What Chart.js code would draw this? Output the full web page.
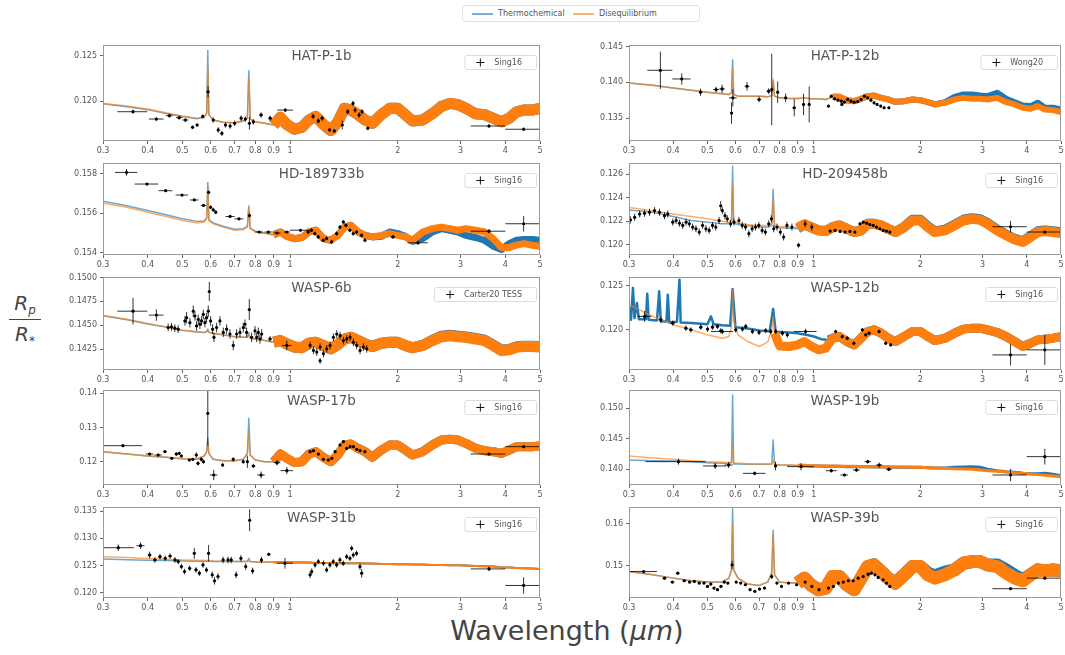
<!DOCTYPE html>
<html>
<head>
<meta charset="utf-8">
<script src="https://cdn.jsdelivr.net/npm/chart.js@4.4.1/dist/chart.umd.min.js"></script>
<style>
  body { margin: 0; background: #fff; width: 1065px; height: 655px; overflow: hidden; position: relative; font-family: "DejaVu Sans", sans-serif; }
  canvas { position: absolute; }
  #legend { position: absolute; left: 462px; top: 5px; width: 238px; height: 17px; border: 1px solid #e2e2e2; border-radius: 3px; box-sizing: border-box; font-size: 8px; color: #555; }
  #legend .ln { position: absolute; top: 7px; width: 21px; height: 2px; }
  #legend .tx { position: absolute; top: 3px; }
  #ylab { position: absolute; left: 7px; top: 291px; width: 36px; text-align: center; color: #444; font: italic 20px "DejaVu Sans", sans-serif; line-height: 24px; }
  #ylab sub { font-size: 12px; line-height: 0; vertical-align: -4px; }
  #ylab .bar { height: 1px; background: #444; margin: 4px 2px 2px 2px; }
  #xlab { position: absolute; left: 367px; width: 400px; top: 615px; text-align: center; font-size: 27px; color: #444; }
</style>
</head>
<body>
<div id="legend">
  <span class="ln" style="left:9px;background:rgba(31,119,180,0.6)"></span><span class="tx" style="left:35px">Thermochemical</span>
  <span class="ln" style="left:110px;background:rgba(255,127,14,0.6)"></span><span class="tx" style="left:136px">Disequilibrium</span>
</div>
<div id="ylab"><div><i>R</i><sub><i>p</i></sub></div><div class="bar"></div><div><i>R</i><sub><i>*</i></sub></div></div>
<div id="xlab">Wavelength (<i>μm</i>)</div>
<script>
"use strict";

// model wavelength grid (um)
const WAVE = [
  0.30, 0.35, 0.40, 0.45, 0.50, 0.55,
  0.575, 0.585, 0.589, 0.593,
  0.61, 0.65, 0.70, 0.74, 0.76,
  0.767, 0.774, 0.80, 0.85, 0.90,
  0.94, 0.98, 1.03, 1.08, 1.13,
  1.18, 1.24, 1.30, 1.36, 1.42,
  1.48, 1.55, 1.62, 1.70, 1.80,
  1.90, 2.00, 2.10, 2.20, 2.35,
  2.50, 2.65, 2.80, 2.95, 3.10,
  3.30, 3.50, 3.70, 3.90, 4.10,
  4.30, 4.50, 4.75, 5.00
];
const X_TICKS = [0.3, 0.4, 0.5, 0.6, 0.7, 0.8, 0.9, 1, 2, 3, 4, 5];

// HAT-P-1b
const hatp1Diseq = [
  0.11974, 0.11945, 0.11912, 0.11870, 0.11835, 0.11810,
  0.11820, 0.11860, 0.12380, 0.11850,
  0.11790, 0.11765, 0.11760, 0.11780, 0.11810,
  0.12250, 0.11800, 0.11770, 0.11754, 0.11735,
  0.11820, 0.11740, 0.11688, 0.11710, 0.11790,
  0.11830, 0.11740, 0.11673, 0.11770, 0.11920,
  0.11900, 0.11850, 0.11790, 0.11754, 0.11850,
  0.11920, 0.11920, 0.11850, 0.11780, 0.11790,
  0.11860, 0.11940, 0.11974, 0.11960, 0.11920,
  0.11860, 0.11850, 0.11810, 0.11770, 0.11810,
  0.11880, 0.11900, 0.11900, 0.11920
];
const hatp1Thermo = [
  0.11970, 0.11938, 0.11905, 0.11862, 0.11828, 0.11805,
  0.11820, 0.11870, 0.12563, 0.11850,
  0.11790, 0.11765, 0.11760, 0.11780, 0.11810,
  0.12335, 0.11800, 0.11770, 0.11754, 0.11735,
  0.11820, 0.11740, 0.11688, 0.11710, 0.11790,
  0.11830, 0.11740, 0.11673, 0.11770, 0.11920,
  0.11900, 0.11850, 0.11790, 0.11754, 0.11850,
  0.11920, 0.11920, 0.11850, 0.11780, 0.11790,
  0.11860, 0.11940, 0.11974, 0.11960, 0.11920,
  0.11860, 0.11850, 0.11810, 0.11770, 0.11810,
  0.11880, 0.11900, 0.11900, 0.11920
];
// [wavelength, Rp/R*, x error, y error]
const hatp1Obs = [
  [0.364, 0.11882, 0.035, 0.0002], [0.423, 0.11801, 0.02, 0.0002], [0.46, 0.11838, 0.01, 0.0002],
  [0.49, 0.11816, 0.01, 0.0002], [0.51, 0.1179, 0.01, 0.0002], [0.534, 0.1171, 0.005, 0.0002],
  [0.55, 0.11735, 0.005, 0.0002], [0.57, 0.1183, 0.005, 0.0002], [0.59, 0.12103, 0.005, 0.0006],
  [0.61, 0.1179, 0.005, 0.0003], [0.63, 0.1168, 0.005, 0.0003], [0.645, 0.11643, 0.005, 0.0003],
  [0.66, 0.11735, 0.005, 0.0003], [0.68, 0.11724, 0.005, 0.0003], [0.70, 0.11754, 0.005, 0.0003],
  [0.73, 0.1181, 0.005, 0.0003], [0.75, 0.1180, 0.005, 0.0003], [0.77, 0.11754, 0.005, 0.0007],
  [0.79, 0.1177, 0.005, 0.0003], [0.83, 0.11846, 0.01, 0.0003], [0.88, 0.1181, 0.01, 0.0003],
  [0.97, 0.1190, 0.05, 0.0002], [1.16, 0.1183, 0.01, 0.0003], [1.2, 0.1178, 0.01, 0.0003],
  [1.23, 0.1181, 0.01, 0.0003], [1.29, 0.1168, 0.01, 0.0002], [1.33, 0.1167, 0.01, 0.0002],
  [1.40, 0.11735, 0.01, 0.0005], [1.45, 0.11882, 0.01, 0.0003], [1.50, 0.11974, 0.01, 0.0003],
  [1.52, 0.1190, 0.01, 0.0003], [1.56, 0.11846, 0.01, 0.0003], [1.59, 0.11882, 0.01, 0.0003],
  [1.65, 0.11699, 0.01, 0.0002], [3.6, 0.11724, 0.4, 0.0002], [4.5, 0.11688, 0.5, 0.0002]
];
const hatp1Ticks = [0.120, 0.125];

// HAT-P-12b
const hatp12Diseq = [
  0.13991, 0.13958, 0.13921, 0.13889, 0.13861, 0.13838,
  0.13829, 0.13852, 0.14199, 0.13829,
  0.13806, 0.13806, 0.13806, 0.13796, 0.13815,
  0.14046, 0.13806, 0.13782, 0.13773, 0.13773,
  0.13782, 0.13769, 0.13769, 0.13760, 0.13796,
  0.13796, 0.13750, 0.13736, 0.13769, 0.13806,
  0.13815, 0.13782, 0.13760, 0.13727, 0.13736,
  0.13760, 0.13750, 0.13722, 0.13690, 0.13713,
  0.13760, 0.13782, 0.13769, 0.13769, 0.13760,
  0.13782, 0.13722, 0.13690, 0.13644, 0.13630,
  0.13667, 0.13620, 0.13611, 0.13583
];
const hatp12Thermo = [
  0.13991, 0.13958, 0.13921, 0.13889, 0.13861, 0.13838,
  0.13829, 0.13860, 0.14315, 0.13829,
  0.13806, 0.13806, 0.13806, 0.13796, 0.13815,
  0.14014, 0.13806, 0.13782, 0.13773, 0.13773,
  0.13782, 0.13769, 0.13769, 0.13760, 0.13796,
  0.13796, 0.13750, 0.13736, 0.13769, 0.13806,
  0.13815, 0.13782, 0.13760, 0.13727, 0.13736,
  0.13760, 0.13750, 0.13722, 0.13690, 0.13722,
  0.13796, 0.13829, 0.13829, 0.13815, 0.13806,
  0.13852, 0.13769, 0.13722, 0.13676, 0.13667,
  0.13713, 0.13644, 0.13644, 0.13620
];
const hatp12Obs = [
  [0.368, 0.14167, 0.03, 0.0026], [0.423, 0.14046, 0.025, 0.0008], [0.478, 0.13861, 0.005, 0.0005],
  [0.529, 0.13898, 0.01, 0.0004], [0.55, 0.13907, 0.01, 0.0006], [0.59, 0.13782, 0.015, 0.0012],
  [0.585, 0.1357, 0.003, 0.0015], [0.647, 0.13944, 0.01, 0.0006], [0.70, 0.13759, 0.01, 0.0004],
  [0.745, 0.13875, 0.01, 0.0004], [0.76, 0.13898, 0.005, 0.005], [0.79, 0.13861, 0.005, 0.0015],
  [0.832, 0.13782, 0.005, 0.0006], [0.88, 0.13644, 0.01, 0.0012], [0.935, 0.1369, 0.005, 0.0015],
  [0.97, 0.1369, 0.005, 0.0025], [1.10, 0.13667, 0.005, 0.0002], [1.12, 0.13806, 0.005, 0.0002],
  [1.145, 0.13769, 0.005, 0.0002], [1.17, 0.1375, 0.005, 0.0002], [1.195, 0.13736, 0.005, 0.0002],
  [1.2, 0.1369, 0.005, 0.0002], [1.22, 0.13722, 0.005, 0.0002], [1.246, 0.1376, 0.005, 0.0002],
  [1.273, 0.13736, 0.005, 0.0002], [1.30, 0.13722, 0.005, 0.0002], [1.33, 0.13731, 0.005, 0.0002],
  [1.36, 0.1376, 0.005, 0.0002], [1.39, 0.13806, 0.005, 0.0002], [1.42, 0.13782, 0.005, 0.0002],
  [1.45, 0.1375, 0.005, 0.0002], [1.48, 0.13713, 0.005, 0.0002], [1.51, 0.1369, 0.005, 0.0002],
  [1.545, 0.13667, 0.005, 0.0002], [1.58, 0.13644, 0.005, 0.0002], [1.63, 0.13644, 0.005, 0.0002]
];
const hatp12Ticks = [0.135, 0.140, 0.145];

// HD-189733b
const hd189Diseq = [
  0.15650, 0.15630, 0.15605, 0.15583, 0.15563, 0.15550,
  0.15555, 0.15571, 0.15739, 0.15563,
  0.15546, 0.15529, 0.15513, 0.15516, 0.15529,
  0.15639, 0.15521, 0.15504, 0.15496, 0.15487,
  0.15504, 0.15482, 0.15470, 0.15476, 0.15504,
  0.15513, 0.15470, 0.15462, 0.15487, 0.15529,
  0.15538, 0.15504, 0.15487, 0.15479, 0.15487,
  0.15496, 0.15487, 0.15479, 0.15462, 0.15504,
  0.15521, 0.15529, 0.15521, 0.15513, 0.15521,
  0.15513, 0.15504, 0.15470, 0.15425, 0.15425,
  0.15437, 0.15445, 0.15437, 0.15432
];
const hd189Thermo = [
  0.15661, 0.15637, 0.15613, 0.15592, 0.15571, 0.15558,
  0.15560, 0.15576, 0.15756, 0.15566,
  0.15550, 0.15533, 0.15518, 0.15521, 0.15533,
  0.15630, 0.15524, 0.15508, 0.15499, 0.15491,
  0.15504, 0.15482, 0.15470, 0.15476, 0.15504,
  0.15513, 0.15470, 0.15462, 0.15487, 0.15529,
  0.15538, 0.15504, 0.15487, 0.15479, 0.15482,
  0.15504, 0.15496, 0.15482, 0.15457, 0.15470,
  0.15504, 0.15521, 0.15513, 0.15504, 0.15487,
  0.15476, 0.15462, 0.15432, 0.15415, 0.15445,
  0.15462, 0.15466, 0.15466, 0.15462
];
const hd189Obs = [
  [0.349, 0.15807, 0.025, 0.00017], [0.398, 0.15748, 0.03, 0.00005], [0.449, 0.15714, 0.02, 0.00005],
  [0.499, 0.15692, 0.02, 0.00005], [0.54, 0.15667, 0.015, 0.00005], [0.573, 0.15639, 0.01, 0.00008],
  [0.592, 0.15706, 0.003, 0.0001], [0.60, 0.1563, 0.005, 0.0001], [0.61, 0.15617, 0.005, 0.0001],
  [0.62, 0.15605, 0.005, 0.0001], [0.68, 0.15583, 0.02, 0.00005], [0.72, 0.15571, 0.02, 0.00005],
  [0.77, 0.15588, 0.005, 0.0001], [0.82, 0.15504, 0.02, 0.00005], [0.87, 0.15504, 0.02, 0.00005],
  [0.92, 0.15499, 0.02, 0.00005], [0.98, 0.15504, 0.02, 0.00005], [1.07, 0.15513, 0.07, 0.00005],
  [1.124, 0.15504, 0.01, 0.0001], [1.148, 0.15513, 0.01, 0.0001], [1.173, 0.15496, 0.01, 0.0001],
  [1.199, 0.15479, 0.01, 0.0001], [1.238, 0.15462, 0.01, 0.0001], [1.265, 0.15471, 0.01, 0.0001],
  [1.307, 0.15454, 0.01, 0.0001], [1.35, 0.15496, 0.01, 0.0001], [1.379, 0.15529, 0.01, 0.0001],
  [1.41, 0.15555, 0.01, 0.0001], [1.433, 0.15538, 0.01, 0.0001], [1.47, 0.15513, 0.01, 0.0001],
  [1.502, 0.15496, 0.01, 0.0001], [1.535, 0.15504, 0.01, 0.0001], [1.585, 0.15487, 0.01, 0.0001],
  [1.62, 0.15462, 0.01, 0.0001], [1.94, 0.15479, 0.03, 0.0001], [2.28, 0.15449, 0.15, 0.0001],
  [3.6, 0.15508, 0.4, 0.0001], [4.5, 0.15546, 0.5, 0.0004]
];
const hd189Ticks = [0.154, 0.156, 0.158];

// HD-209458b
const hd209Diseq = [
  0.12317, 0.12289, 0.12261, 0.12239, 0.12220, 0.12200,
  0.12192, 0.12220, 0.12512, 0.12206,
  0.12183, 0.12172, 0.12164, 0.12164, 0.12178,
  0.12387, 0.12164, 0.12155, 0.12150, 0.12144,
  0.12172, 0.12150, 0.12122, 0.12116, 0.12150,
  0.12164, 0.12136, 0.12108, 0.12122, 0.12178,
  0.12178, 0.12164, 0.12136, 0.12108, 0.12150,
  0.12206, 0.12206, 0.12150, 0.12108, 0.12122,
  0.12164, 0.12206, 0.12220, 0.12211, 0.12178,
  0.12122, 0.12080, 0.12044, 0.12024, 0.12066,
  0.12108, 0.12116, 0.12108, 0.12100
];
const hd209Thermo = [
  0.12295, 0.12275, 0.12239, 0.12206, 0.12192, 0.12178,
  0.12178, 0.12206, 0.12666, 0.12183,
  0.12172, 0.12161, 0.12150, 0.12150, 0.12164,
  0.12471, 0.12150, 0.12144, 0.12141, 0.12139,
  0.12172, 0.12150, 0.12122, 0.12116, 0.12150,
  0.12164, 0.12136, 0.12108, 0.12122, 0.12178,
  0.12178, 0.12164, 0.12136, 0.12108, 0.12150,
  0.12212, 0.12212, 0.12156, 0.12114, 0.12128,
  0.12170, 0.12212, 0.12226, 0.12217, 0.12184,
  0.12128, 0.12086, 0.12050, 0.12030, 0.12072,
  0.12114, 0.12122, 0.12114, 0.12106
];
const hd209Obs = [
  [0.3026, 0.12211, 0.003, 0.0003], [0.3112, 0.12233, 0.003, 0.0003], [0.3215, 0.12261, 0.003, 0.0003],
  [0.3319, 0.12267, 0.003, 0.0003], [0.3429, 0.12275, 0.003, 0.0003], [0.3542, 0.12289, 0.003, 0.0003],
  [0.3659, 0.12275, 0.003, 0.0003], [0.378, 0.12247, 0.003, 0.0003], [0.3862, 0.12261, 0.003, 0.0003],
  [0.3989, 0.12192, 0.003, 0.0003], [0.4077, 0.12206, 0.003, 0.0003], [0.4167, 0.12183, 0.003, 0.0003],
  [0.4258, 0.12164, 0.003, 0.0003], [0.4351, 0.12192, 0.003, 0.0003], [0.4445, 0.12178, 0.003, 0.0003],
  [0.4542, 0.1215, 0.003, 0.0003], [0.464, 0.12136, 0.003, 0.0003], [0.474, 0.12108, 0.003, 0.0003],
  [0.4844, 0.12164, 0.003, 0.0003], [0.495, 0.12136, 0.003, 0.0003], [0.5057, 0.12122, 0.003, 0.0003],
  [0.5167, 0.12164, 0.003, 0.0003], [0.528, 0.1215, 0.003, 0.0003], [0.5395, 0.12206, 0.003, 0.0003],
  [0.5452, 0.12331, 0.003, 0.0004], [0.551, 0.12289, 0.003, 0.0003], [0.5606, 0.12247, 0.003, 0.0003],
  [0.569, 0.1222, 0.003, 0.0003], [0.5815, 0.12178, 0.003, 0.0003], [0.5942, 0.12192, 0.003, 0.0003],
  [0.6138, 0.12206, 0.003, 0.0003], [0.6272, 0.12164, 0.003, 0.0003], [0.6409, 0.1215, 0.003, 0.0003],
  [0.6549, 0.12094, 0.003, 0.0003], [0.669, 0.12136, 0.003, 0.0003], [0.6837, 0.1215, 0.003, 0.0003],
  [0.6987, 0.12164, 0.003, 0.0003], [0.7139, 0.12122, 0.003, 0.0003], [0.7294, 0.12108, 0.003, 0.0003],
  [0.7453, 0.12178, 0.003, 0.0003], [0.7583, 0.1222, 0.003, 0.0003], [0.7698, 0.12136, 0.003, 0.0003],
  [0.7866, 0.1215, 0.003, 0.0003], [0.8038, 0.12108, 0.003, 0.0003], [0.8212, 0.12066, 0.003, 0.0003],
  [0.8391, 0.12164, 0.003, 0.0003], [0.8668, 0.1215, 0.003, 0.0003], [0.9049, 0.11996, 0.003, 0.0002],
  [0.9448, 0.12178, 0.003, 0.0003], [0.9864, 0.1215, 0.003, 0.0003],
  [1.112, 0.12116, 0.005, 0.0001], [1.148, 0.12122, 0.005, 0.0001], [1.186, 0.12113, 0.005, 0.0001],
  [1.225, 0.12108, 0.005, 0.0001], [1.265, 0.12113, 0.005, 0.0001], [1.306, 0.12108, 0.005, 0.0001],
  [1.35, 0.12178, 0.005, 0.0001], [1.379, 0.12192, 0.005, 0.0001], [1.41, 0.12183, 0.005, 0.0001],
  [1.44, 0.12172, 0.005, 0.0001], [1.472, 0.12164, 0.005, 0.0001], [1.504, 0.1215, 0.005, 0.0001],
  [1.537, 0.12136, 0.005, 0.0001], [1.571, 0.12122, 0.005, 0.0001], [1.605, 0.12116, 0.005, 0.0001],
  [1.64, 0.12108, 0.005, 0.0001], [3.6, 0.12153, 0.4, 0.0005], [4.5, 0.12108, 0.5, 0.0001]
];
const hd209Ticks = [0.120, 0.122, 0.124, 0.126];

// WASP-6b
const wasp6Diseq = [
  0.14603, 0.14562, 0.14517, 0.14483, 0.14449, 0.14432,
  0.14425, 0.14432, 0.14442, 0.14425,
  0.14414, 0.14401, 0.14380, 0.14373, 0.14373,
  0.14408, 0.14363, 0.14356, 0.14339, 0.14322,
  0.14339, 0.14305, 0.14271, 0.14264, 0.14312,
  0.14322, 0.14288, 0.14253, 0.14298, 0.14356,
  0.14373, 0.14339, 0.14305, 0.14277, 0.14312,
  0.14322, 0.14322, 0.14288, 0.14264, 0.14288,
  0.14339, 0.14380, 0.14390, 0.14380, 0.14373,
  0.14356, 0.14339, 0.14288, 0.14236, 0.14243,
  0.14271, 0.14277, 0.14277, 0.14271
];
const wasp6Thermo = [
  0.14600, 0.14558, 0.14513, 0.14480, 0.14446, 0.14430,
  0.14425, 0.14435, 0.14460, 0.14425,
  0.14414, 0.14401, 0.14380, 0.14373, 0.14373,
  0.14420, 0.14363, 0.14356, 0.14339, 0.14322,
  0.14339, 0.14305, 0.14271, 0.14264, 0.14312,
  0.14322, 0.14288, 0.14253, 0.14298, 0.14356,
  0.14373, 0.14339, 0.14305, 0.14277, 0.14312,
  0.14322, 0.14322, 0.14288, 0.14264, 0.14288,
  0.14343, 0.14385, 0.14396, 0.14386, 0.14378,
  0.14362, 0.14343, 0.14292, 0.14240, 0.14246,
  0.14274, 0.14280, 0.14280, 0.14274
];
const wasp6Obs = [
  [0.364, 0.14647, 0.035, 0.0014], [0.423, 0.14606, 0.02, 0.0006],
  [0.4563, 0.14476, 0.004, 0.0004], [0.4663, 0.14483, 0.004, 0.0004], [0.4764, 0.14469, 0.004, 0.0004],
  [0.4868, 0.14459, 0.004, 0.0004], [0.5084, 0.14545, 0.004, 0.0005], [0.5139, 0.14579, 0.004, 0.0006],
  [0.525, 0.14527, 0.004, 0.0005], [0.5364, 0.14647, 0.004, 0.0006], [0.5422, 0.14596, 0.004, 0.0005],
  [0.548, 0.14493, 0.004, 0.0005], [0.5539, 0.14562, 0.004, 0.0005], [0.5599, 0.1451, 0.004, 0.0005],
  [0.566, 0.14545, 0.004, 0.0005], [0.5721, 0.14613, 0.004, 0.0005], [0.5783, 0.14527, 0.004, 0.0005],
  [0.5845, 0.14579, 0.004, 0.0005], [0.5908, 0.14647, 0.004, 0.0006], [0.5947, 0.14853, 0.003, 0.001],
  [0.5998, 0.14545, 0.004, 0.0005], [0.6076, 0.14459, 0.004, 0.0005], [0.6128, 0.14373, 0.004, 0.0005],
  [0.6234, 0.14476, 0.004, 0.0005], [0.6369, 0.14545, 0.004, 0.0005], [0.6508, 0.14425, 0.004, 0.0005],
  [0.6649, 0.14459, 0.004, 0.0005], [0.6793, 0.14408, 0.004, 0.0005], [0.694, 0.14288, 0.004, 0.0005],
  [0.7092, 0.14408, 0.004, 0.0005], [0.7246, 0.14425, 0.004, 0.0005], [0.7403, 0.14476, 0.004, 0.0005],
  [0.7483, 0.1451, 0.004, 0.0005], [0.7563, 0.14425, 0.004, 0.0005], [0.7694, 0.14664, 0.003, 0.0011],
  [0.7811, 0.14373, 0.004, 0.0005], [0.7981, 0.14442, 0.004, 0.0005], [0.8067, 0.14373, 0.004, 0.0005],
  [0.8154, 0.14425, 0.004, 0.0005], [0.8243, 0.14356, 0.004, 0.0005], [0.8331, 0.14408, 0.004, 0.0005],
  [0.8794, 0.14356, 0.01, 0.0003], [0.9795, 0.14288, 0.03, 0.0005],
  [1.1381, 0.14288, 0.005, 0.0004], [1.1628, 0.14236, 0.005, 0.0004], [1.188, 0.14219, 0.005, 0.0004],
  [1.2137, 0.14271, 0.005, 0.0004], [1.24, 0.14202, 0.005, 0.0004], [1.2669, 0.14253, 0.005, 0.0004],
  [1.2944, 0.14288, 0.005, 0.0004], [1.3224, 0.14373, 0.005, 0.0004], [1.3511, 0.14408, 0.005, 0.0004],
  [1.3803, 0.1439, 0.005, 0.0004], [1.4102, 0.14339, 0.005, 0.0004], [1.4408, 0.14356, 0.005, 0.0004],
  [1.472, 0.14373, 0.005, 0.0004], [1.5039, 0.14322, 0.005, 0.0004], [1.5365, 0.14288, 0.005, 0.0004],
  [1.5698, 0.14236, 0.005, 0.0004], [1.6038, 0.14271, 0.005, 0.0004], [1.6386, 0.14253, 0.005, 0.0004],
  [1.2137, 0.14127, 0.005, 0.0003]
];
const wasp6Ticks = [0.1425, 0.1450, 0.1475, 0.1500];

// WASP-12b
const wasp12Diseq = [
  0.12284, 0.12152, 0.12057, 0.12000, 0.11943, 0.11905,
  0.11924, 0.12038, 0.12455, 0.12114,
  0.11943, 0.11867, 0.11811, 0.11860, 0.12000,
  0.12152, 0.11962, 0.11818, 0.11811, 0.11830,
  0.11867, 0.11818, 0.11773, 0.11792, 0.11905,
  0.11924, 0.11867, 0.11830, 0.11905, 0.11981,
  0.12000, 0.11962, 0.11905, 0.11867, 0.11924,
  0.11981, 0.11981, 0.11924, 0.11879, 0.11905,
  0.11962, 0.12008, 0.12019, 0.12019, 0.12000,
  0.11970, 0.11924, 0.11867, 0.11811, 0.11848,
  0.11886, 0.11894, 0.11905, 0.11924
];
const wasp12ThermoWave = [
  0.300, 0.304, 0.3078, 0.311, 0.3159, 0.320,
  0.335, 0.3379, 0.341, 0.360, 0.3651,
  0.369, 0.383, 0.3862, 0.390, 0.410,
  0.4168, 0.420, 0.450, 0.500, 0.5117,
  0.520, 0.550, 0.580, 0.589, 0.600,
  0.650, 0.700, 0.750, 0.767, 0.780,
  0.850, 0.900, 0.950, 1.000, 1.050,
  1.100,
  1.13,
  1.18, 1.24, 1.30, 1.36, 1.42,
  1.48, 1.55, 1.62, 1.70, 1.80,
  1.90, 2.00, 2.10, 2.20, 2.35,
  2.50, 2.65, 2.80, 2.95, 3.10,
  3.30, 3.50, 3.70, 3.90, 4.10,
  4.30, 4.50, 4.75, 5.00
];
const wasp12Thermo = [
  0.12265, 0.12114, 0.12473, 0.12133, 0.12303, 0.12121,
  0.12121, 0.12409, 0.12114, 0.12106, 0.12436,
  0.12095, 0.12095, 0.12398, 0.12083, 0.12091,
  0.12568, 0.12083, 0.12076, 0.12064, 0.12152,
  0.12064, 0.12053, 0.12045, 0.12462, 0.12030,
  0.12015, 0.11992, 0.11985, 0.12235, 0.11977,
  0.11970, 0.11962, 0.11943, 0.11924, 0.11894,
  0.11886,
  0.11905,
  0.11924, 0.11867, 0.11830, 0.11905, 0.11981,
  0.12000, 0.11962, 0.11905, 0.11867, 0.11924,
  0.11981, 0.11981, 0.11924, 0.11879, 0.11905,
  0.11962, 0.12008, 0.12019, 0.12019, 0.12000,
  0.11970, 0.11924, 0.11867, 0.11811, 0.11848,
  0.11886, 0.11894, 0.11905, 0.11924
];
const wasp12Obs = [
  [0.332, 0.12152, 0.015, 0.0006], [0.369, 0.12114, 0.005, 0.0003], [0.399, 0.12076, 0.005, 0.0003],
  [0.4345, 0.12019, 0.005, 0.0003], [0.4488, 0.120, 0.005, 0.0003], [0.4789, 0.1203, 0.005, 0.0003],
  [0.5003, 0.12008, 0.005, 0.0003], [0.5167, 0.1203, 0.005, 0.0003], [0.5337, 0.12038, 0.005, 0.0003],
  [0.5454, 0.11989, 0.005, 0.0003], [0.5514, 0.11981, 0.04, 0.0003], [0.6012, 0.120, 0.005, 0.0003],
  [0.6279, 0.12008, 0.005, 0.0003], [0.6416, 0.12038, 0.005, 0.0003], [0.67, 0.11981, 0.005, 0.0003],
  [0.6998, 0.1197, 0.005, 0.0003], [0.731, 0.11992, 0.005, 0.0003], [0.7551, 0.11981, 0.005, 0.0003],
  [0.7799, 0.11981, 0.005, 0.0003], [0.8144, 0.11962, 0.005, 0.0003], [0.8413, 0.11943, 0.005, 0.0003],
  [0.9474, 0.11981, 0.07, 0.0003], [1.1522, 0.11981, 0.01, 0.0002], [1.203, 0.11924, 0.01, 0.0002],
  [1.2426, 0.11905, 0.01, 0.0002], [1.2975, 0.11848, 0.01, 0.0002], [1.3716, 0.120, 0.01, 0.0002],
  [1.4015, 0.11943, 0.01, 0.0002], [1.4322, 0.11962, 0.01, 0.0002], [1.5292, 0.11981, 0.01, 0.0002],
  [1.5968, 0.11848, 0.01, 0.0002], [1.6495, 0.1183, 0.01, 0.0002], [3.6, 0.11716, 0.4, 0.0012],
  [4.5, 0.11773, 0.5, 0.0017]
];
const wasp12Ticks = [0.120, 0.125];

// WASP-17b
const wasp17Diseq = [
  0.12293, 0.12224, 0.12166, 0.12127, 0.12088, 0.12078,
  0.12166, 0.12293, 0.12585, 0.12244,
  0.12068, 0.12029, 0.12029, 0.12068, 0.12244,
  0.12829, 0.12195, 0.12049, 0.12000, 0.12000,
  0.12224, 0.12098, 0.11971, 0.12000, 0.12224,
  0.12293, 0.12127, 0.12000, 0.12195, 0.12488,
  0.12517, 0.12390, 0.12293, 0.12127, 0.12341,
  0.12488, 0.12488, 0.12341, 0.12195, 0.12293,
  0.12488, 0.12634, 0.12654, 0.12634, 0.12537,
  0.12390, 0.12322, 0.12293, 0.12244, 0.12341,
  0.12439, 0.12439, 0.12439, 0.12459
];
const wasp17Thermo = [
  0.12293, 0.12224, 0.12166, 0.12127, 0.12088, 0.12078,
  0.12166, 0.12293, 0.12683, 0.12244,
  0.12068, 0.12029, 0.12029, 0.12068, 0.12244,
  0.13268, 0.12195, 0.12049, 0.12000, 0.12000,
  0.12224, 0.12098, 0.11971, 0.12000, 0.12224,
  0.12293, 0.12127, 0.12000, 0.12195, 0.12488,
  0.12517, 0.12390, 0.12293, 0.12127, 0.12341,
  0.12488, 0.12488, 0.12341, 0.12195, 0.12293,
  0.12488, 0.12634, 0.12654, 0.12634, 0.12537,
  0.12390, 0.12322, 0.12293, 0.12244, 0.12341,
  0.12439, 0.12439, 0.12439, 0.12459
];
const wasp17Obs = [
  [0.341, 0.12468, 0.045, 0.0002], [0.405, 0.12224, 0.01, 0.0004], [0.428, 0.12195, 0.01, 0.0004],
  [0.447, 0.12293, 0.005, 0.0004], [0.467, 0.12098, 0.005, 0.0004], [0.481, 0.12224, 0.005, 0.0006],
  [0.49, 0.12244, 0.005, 0.0004], [0.497, 0.12166, 0.005, 0.0004], [0.523, 0.12049, 0.005, 0.0004],
  [0.535, 0.12068, 0.005, 0.0004], [0.547, 0.12195, 0.005, 0.0008], [0.553, 0.11951, 0.005, 0.0006],
  [0.565, 0.12068, 0.005, 0.0006], [0.573, 0.12, 0.005, 0.0006], [0.589, 0.13415, 0.003, 0.0095],
  [0.612, 0.1161, 0.015, 0.0015], [0.648, 0.11902, 0.005, 0.0006], [0.694, 0.12068, 0.005, 0.0006],
  [0.74, 0.12, 0.005, 0.0006], [0.76, 0.12, 0.005, 0.0018], [0.79, 0.11873, 0.01, 0.0006],
  [0.83, 0.1161, 0.02, 0.001], [0.92, 0.11971, 0.02, 0.0008], [0.98, 0.11737, 0.04, 0.001],
  [1.138, 0.12293, 0.01, 0.0004], [1.163, 0.12322, 0.01, 0.0004], [1.20, 0.12224, 0.01, 0.0004],
  [1.24, 0.12068, 0.01, 0.0004], [1.28, 0.12049, 0.01, 0.0004], [1.309, 0.12098, 0.01, 0.0004],
  [1.337, 0.12293, 0.01, 0.0004], [1.38, 0.12488, 0.01, 0.0004], [1.41, 0.12585, 0.01, 0.0004],
  [1.441, 0.1239, 0.01, 0.0004], [1.472, 0.12439, 0.01, 0.0004], [1.504, 0.12439, 0.01, 0.0004],
  [1.537, 0.1236, 0.01, 0.0004], [1.57, 0.12322, 0.01, 0.0004], [1.62, 0.12293, 0.01, 0.0004],
  [3.6, 0.12224, 0.4, 0.0003], [4.5, 0.12439, 0.5, 0.0003]
];
const wasp17Ticks = [0.12, 0.13, 0.14];

// WASP-19b
const wasp19Diseq = [
  0.14219, 0.14186, 0.14164, 0.14142, 0.14126, 0.14115,
  0.14109, 0.14120, 0.14372, 0.14098,
  0.14098, 0.14093, 0.14087, 0.14087, 0.14087,
  0.14153, 0.14082, 0.14076, 0.14071, 0.14066,
  0.14066, 0.14060, 0.14055, 0.14055, 0.14055,
  0.14049, 0.14049, 0.14049, 0.14044, 0.14044,
  0.14044, 0.14044, 0.14038, 0.14038, 0.14038,
  0.14033, 0.14033, 0.14027, 0.14022, 0.14016,
  0.14011, 0.14005, 0.14000, 0.13989, 0.13978,
  0.13967, 0.13956, 0.13945, 0.13934, 0.13924,
  0.13913, 0.13902, 0.13891, 0.13880
];
const wasp19Thermo = [
  0.14153, 0.14142, 0.14137, 0.14126, 0.14109, 0.14098,
  0.14098, 0.14109, 0.15219, 0.14087,
  0.14087, 0.14082, 0.14082, 0.14082, 0.14087,
  0.14481, 0.14076, 0.14071, 0.14066, 0.14060,
  0.14060, 0.14055, 0.14055, 0.14049, 0.14049,
  0.14049, 0.14044, 0.14044, 0.14044, 0.14044,
  0.14038, 0.14038, 0.14038, 0.14033, 0.14033,
  0.14033, 0.14033, 0.14027, 0.14022, 0.14022,
  0.14033, 0.14038, 0.14044, 0.14033, 0.14000,
  0.13978, 0.13962, 0.13951, 0.13934, 0.13929,
  0.13929, 0.13934, 0.13918, 0.13896
];
const wasp19Obs = [
  [0.414, 0.14126, 0.08, 0.0005], [0.526, 0.14055, 0.04, 0.0005], [0.574, 0.14071, 0.015, 0.0005],
  [0.68, 0.13934, 0.05, 0.0003], [0.779, 0.14055, 0.005, 0.0007], [0.92, 0.14044, 0.08, 0.0006],
  [1.12, 0.13978, 0.04, 0.0003], [1.22, 0.13907, 0.03, 0.0002], [1.32, 0.13989, 0.03, 0.0003],
  [1.42, 0.14126, 0.03, 0.0003], [1.53, 0.14071, 0.03, 0.0004], [1.63, 0.140, 0.03, 0.0003],
  [3.6, 0.13907, 0.4, 0.001], [4.5, 0.14208, 0.5, 0.0013]
];
const wasp19Ticks = [0.140, 0.145, 0.150];

// WASP-31b
const wasp31Diseq = [
  0.12664, 0.12646, 0.12628, 0.12615, 0.12603, 0.12597,
  0.12591, 0.12591, 0.12597, 0.12591,
  0.12585, 0.12579, 0.12573, 0.12573, 0.12573,
  0.12579, 0.12573, 0.12567, 0.12567, 0.12561,
  0.12561, 0.12561, 0.12555, 0.12555, 0.12555,
  0.12549, 0.12549, 0.12549, 0.12543, 0.12543,
  0.12543, 0.12543, 0.12536, 0.12536, 0.12530,
  0.12530, 0.12524, 0.12524, 0.12518, 0.12518,
  0.12512, 0.12512, 0.12506, 0.12506, 0.12500,
  0.12494, 0.12488, 0.12482, 0.12470, 0.12464,
  0.12457, 0.12451, 0.12445, 0.12439
];
const wasp31Thermo = [
  0.12622, 0.12609, 0.12597, 0.12591, 0.12585, 0.12579,
  0.12579, 0.12579, 0.12585, 0.12579,
  0.12573, 0.12573, 0.12573, 0.12573, 0.12579,
  0.12634, 0.12573, 0.12567, 0.12567, 0.12561,
  0.12561, 0.12561, 0.12555, 0.12555, 0.12555,
  0.12549, 0.12549, 0.12549, 0.12543, 0.12543,
  0.12543, 0.12543, 0.12536, 0.12536, 0.12530,
  0.12530, 0.12524, 0.12524, 0.12518, 0.12518,
  0.12512, 0.12512, 0.12506, 0.12506, 0.12500,
  0.12494, 0.12488, 0.12482, 0.12470, 0.12464,
  0.12457, 0.12451, 0.12445, 0.12439
];
const wasp31Obs = [
  [0.331, 0.12828, 0.035, 0.0006], [0.382, 0.12865, 0.01, 0.0006], [0.405, 0.12694, 0.005, 0.0006],
  [0.419, 0.12603, 0.005, 0.0005], [0.433, 0.12664, 0.005, 0.0005], [0.448, 0.12634, 0.005, 0.0005],
  [0.462, 0.12676, 0.005, 0.0005], [0.477, 0.12603, 0.005, 0.0005], [0.487, 0.12573, 0.005, 0.0005],
  [0.497, 0.12482, 0.005, 0.0005], [0.507, 0.12391, 0.005, 0.0005], [0.524, 0.12451, 0.005, 0.0005],
  [0.54, 0.12725, 0.005, 0.001], [0.546, 0.12421, 0.005, 0.0005], [0.558, 0.1236, 0.005, 0.0005],
  [0.571, 0.12512, 0.005, 0.0005], [0.584, 0.12421, 0.005, 0.0005], [0.592, 0.12725, 0.005, 0.0015],
  [0.606, 0.1233, 0.005, 0.0006], [0.615, 0.12221, 0.005, 0.0007], [0.629, 0.123, 0.005, 0.0006],
  [0.65, 0.12603, 0.005, 0.0006], [0.671, 0.12603, 0.005, 0.0006], [0.685, 0.12603, 0.005, 0.0006],
  [0.707, 0.1233, 0.005, 0.0006], [0.729, 0.12634, 0.005, 0.0006], [0.752, 0.12482, 0.005, 0.0006],
  [0.771, 0.13332, 0.003, 0.002], [0.786, 0.12403, 0.005, 0.0006], [0.832, 0.12603, 0.005, 0.0006],
  [0.872, 0.12707, 0.01, 0.0003], [0.968, 0.12543, 0.05, 0.001],
  [1.138, 0.1233, 0.005, 0.0006], [1.15, 0.12391, 0.005, 0.0006], [1.175, 0.12512, 0.005, 0.0005],
  [1.2, 0.12573, 0.005, 0.0005], [1.24, 0.12543, 0.005, 0.0005], [1.266, 0.12421, 0.005, 0.0005],
  [1.293, 0.12512, 0.005, 0.0005], [1.321, 0.12573, 0.005, 0.0005], [1.35, 0.12512, 0.005, 0.0005],
  [1.379, 0.12603, 0.005, 0.0005], [1.409, 0.12543, 0.005, 0.0005], [1.44, 0.12664, 0.005, 0.0005],
  [1.471, 0.12634, 0.005, 0.0005], [1.487, 0.12816, 0.005, 0.0005], [1.503, 0.12694, 0.005, 0.0005],
  [1.535, 0.12725, 0.005, 0.0005], [1.569, 0.12482, 0.005, 0.0006], [1.586, 0.1236, 0.005, 0.0008],
  [3.6, 0.12439, 0.4, 0.0004], [4.5, 0.12135, 0.5, 0.0015]
];
const wasp31Ticks = [0.120, 0.125, 0.130, 0.135];

// WASP-39b
const wasp39Diseq = [
  0.14858, 0.14780, 0.14701, 0.14638, 0.14606, 0.14606,
  0.14701, 0.14898, 0.16000, 0.14898,
  0.14701, 0.14559, 0.14528, 0.14606, 0.14819,
  0.15764, 0.14780, 0.14606, 0.14583, 0.14583,
  0.14701, 0.14543, 0.14425, 0.14465, 0.14740,
  0.14740, 0.14543, 0.14425, 0.14701, 0.14976,
  0.15016, 0.14858, 0.14701, 0.14583, 0.14780,
  0.14976, 0.14976, 0.14780, 0.14701, 0.14780,
  0.14898, 0.15055, 0.15094, 0.15094, 0.15016,
  0.14976, 0.14819, 0.14701, 0.14638, 0.14780,
  0.14898, 0.14874, 0.14898, 0.14874
];
const wasp39Thermo = [
  0.14858, 0.14780, 0.14701, 0.14638, 0.14606, 0.14606,
  0.14701, 0.14898, 0.16354, 0.14898,
  0.14701, 0.14559, 0.14528, 0.14606, 0.14819,
  0.15843, 0.14780, 0.14606, 0.14583, 0.14583,
  0.14701, 0.14543, 0.14425, 0.14465, 0.14740,
  0.14740, 0.14543, 0.14425, 0.14701, 0.14976,
  0.15016, 0.14858, 0.14701, 0.14583, 0.14780,
  0.14976, 0.14976, 0.14819, 0.14756, 0.14843,
  0.14898, 0.15055, 0.15094, 0.15094, 0.15016,
  0.15016, 0.14898, 0.14764, 0.14661, 0.14780,
  0.14898, 0.14874, 0.14898, 0.14874
];
const wasp39Obs = [
  [0.33, 0.14858, 0.03, 0.0003], [0.378, 0.14701, 0.005, 0.0003], [0.398, 0.14606, 0.005, 0.0003],
  [0.412, 0.14819, 0.005, 0.0003], [0.43, 0.14638, 0.005, 0.0003], [0.445, 0.14606, 0.005, 0.0003],
  [0.459, 0.14622, 0.005, 0.0003], [0.474, 0.14583, 0.005, 0.0003], [0.489, 0.14583, 0.005, 0.0003],
  [0.5, 0.14504, 0.005, 0.0003], [0.511, 0.14559, 0.005, 0.0003], [0.522, 0.14465, 0.005, 0.0003],
  [0.534, 0.14425, 0.005, 0.0003], [0.546, 0.14504, 0.005, 0.0003], [0.558, 0.14606, 0.005, 0.0003],
  [0.571, 0.14583, 0.005, 0.0003], [0.587, 0.15016, 0.003, 0.001], [0.603, 0.14606, 0.005, 0.0003],
  [0.621, 0.14583, 0.005, 0.0003], [0.64, 0.14543, 0.005, 0.0003], [0.66, 0.14425, 0.005, 0.0003],
  [0.681, 0.14386, 0.005, 0.0003], [0.702, 0.14441, 0.005, 0.0003], [0.725, 0.14465, 0.005, 0.0003],
  [0.76, 0.1474, 0.005, 0.0006], [0.786, 0.14583, 0.005, 0.0003], [0.81, 0.14504, 0.005, 0.0003],
  [0.848, 0.14583, 0.005, 0.0003], [0.894, 0.14543, 0.005, 0.0003], [0.945, 0.14606, 0.005, 0.0003],
  [0.987, 0.14504, 0.005, 0.0003], [1.034, 0.14425, 0.005, 0.0003],
  [1.10, 0.14465, 0.005, 0.0003], [1.136, 0.14504, 0.005, 0.0003], [1.173, 0.14583, 0.005, 0.0003],
  [1.211, 0.14606, 0.005, 0.0003], [1.251, 0.14638, 0.005, 0.0003], [1.292, 0.14638, 0.005, 0.0003],
  [1.335, 0.14701, 0.005, 0.0003], [1.379, 0.1474, 0.005, 0.0003], [1.424, 0.14795, 0.005, 0.0003],
  [1.455, 0.14819, 0.005, 0.0003], [1.488, 0.1478, 0.005, 0.0003], [1.52, 0.14717, 0.005, 0.0003],
  [1.57, 0.14661, 0.005, 0.0003], [1.605, 0.14583, 0.005, 0.0003], [1.64, 0.14504, 0.005, 0.0003],
  [3.6, 0.14449, 0.4, 0.0003], [4.5, 0.14701, 0.5, 0.0003]
];
const wasp39Ticks = [0.15, 0.16];

const PANELS = [
  { name: "HAT-P-1b", ref: "Sing16", obs: hatp1Obs, thermo: hatp1Thermo, diseq: hatp1Diseq, yTicks: hatp1Ticks, yMin: 0.11558, yMax: 0.1262, digits: 3, band: 11, bandFrom: 0.9, col: 0, row: 0 },
  { name: "HAT-P-12b", ref: "Wong20", obs: hatp12Obs, thermo: hatp12Thermo, diseq: hatp12Diseq, yTicks: hatp12Ticks, yMin: 0.1318, yMax: 0.1452, digits: 3, band: 6, bandFrom: 1.1, col: 1, row: 0 },
  { name: "HD-189733b", ref: "Sing16", obs: hd189Obs, thermo: hd189Thermo, diseq: hd189Diseq, yTicks: hd189Ticks, yMin: 0.15387, yMax: 0.15855, digits: 3, band: 7, bandFrom: 0.88, col: 0, row: 1 },
  { name: "HD-209458b", ref: "Sing16", obs: hd209Obs, thermo: hd209Thermo, diseq: hd209Diseq, yTicks: hd209Ticks, yMin: 0.11913, yMax: 0.12694, digits: 3, band: 10, bandFrom: 0.9, col: 1, row: 1 },
  { name: "WASP-6b", ref: "Carter20 TESS", obs: wasp6Obs, thermo: wasp6Thermo, diseq: wasp6Diseq, yTicks: wasp6Ticks, yMin: 0.14031, yMax: 0.15005, digits: 4, band: 11, bandFrom: 0.9, col: 0, row: 2 },
  { name: "WASP-12b", ref: "Sing16", obs: wasp12Obs, thermo: wasp12Thermo, thermoWave: wasp12ThermoWave, thermoWidth: 2.5, diseq: wasp12Diseq, yTicks: wasp12Ticks, yMin: 0.11545, yMax: 0.12598, digits: 3, band: 9, bandFrom: 0.774, col: 1, row: 2 },
  { name: "WASP-17b", ref: "Sing16", obs: wasp17Obs, thermo: wasp17Thermo, diseq: wasp17Diseq, yTicks: wasp17Ticks, yMin: 0.11317, yMax: 0.14098, digits: 2, band: 9, bandFrom: 0.9, col: 0, row: 3 },
  { name: "WASP-19b", ref: "Sing16", obs: wasp19Obs, thermo: wasp19Thermo, diseq: wasp19Diseq, yTicks: wasp19Ticks, yMin: 0.13743, yMax: 0.153, digits: 3, band: 3, bandFrom: 0.9, col: 1, row: 3 },
  { name: "WASP-31b", ref: "Sing16", obs: wasp31Obs, thermo: wasp31Thermo, diseq: wasp31Diseq, yTicks: wasp31Ticks, yMin: 0.11905, yMax: 0.13575, digits: 3, band: 2, bandFrom: 0.9, col: 0, row: 4 },
  { name: "WASP-39b", ref: "Sing16", obs: wasp39Obs, thermo: wasp39Thermo, diseq: wasp39Diseq, yTicks: wasp39Ticks, yMin: 0.14228, yMax: 0.16394, digits: 2, band: 13, bandFrom: 0.9, col: 1, row: 4 }
];

const ROWS = [[45, 141], [163, 255], [277, 370], [390, 485], [507, 598]];
const COLS = [
  { left: 50, width: 495, axis: 53, padRight: 5 },
  { left: 575, width: 490, axis: 54, padRight: 2 }
];
const PAD_TOP = 6;
const X_AXIS_H = 18;
const THIN = 1.5;
const FONT = '"DejaVu Sans", sans-serif';
const BLUE = "#1f77b4";
const BLUE_THIN = "rgba(31,119,180,0.65)";
const ORANGE = "#ff7f0e";
const ORANGE_THIN = "rgba(255,127,14,0.65)";

Chart.defaults.font.family = FONT;
Chart.defaults.color = "#555";

// error bars from the first dataset's [x, y, xerr, yerr] rows
const errorBars = {
  id: "errorBars",
  afterDatasetsDraw(chart) {
    const errs = chart.data.datasets[0].errors;
    if (!errs) return;
    const { ctx, chartArea: a, scales: { x, y } } = chart;
    ctx.save();
    ctx.beginPath();
    ctx.rect(a.left, a.top, a.right - a.left, a.bottom - a.top);
    ctx.clip();
    ctx.strokeStyle = "rgba(0,0,0,0.8)";
    ctx.lineWidth = 1;
    ctx.beginPath();
    errs.forEach(([w, v, xe, ye]) => {
      const px = x.getPixelForValue(w);
      const py = y.getPixelForValue(v);
      ctx.moveTo(x.getPixelForValue(w - xe), py);
      ctx.lineTo(x.getPixelForValue(w + xe), py);
      ctx.moveTo(px, y.getPixelForValue(v - ye));
      ctx.lineTo(px, y.getPixelForValue(v + ye));
    });
    ctx.stroke();
    ctx.restore();
  }
};

// frame, panel name and the small data legend
const panelDecor = {
  id: "panelDecor",
  afterDraw(chart, args, opts) {
    const { ctx, chartArea: a } = chart;
    ctx.save();
    ctx.strokeStyle = "#9a9a9a";
    ctx.lineWidth = 1;
    ctx.strokeRect(a.left + 0.5, a.top + 0.5, a.right - a.left - 1, a.bottom - a.top - 1);

    ctx.fillStyle = "#555";
    ctx.font = "13.5px " + FONT;
    ctx.textAlign = "center";
    ctx.textBaseline = "top";
    ctx.fillText(opts.title, (a.left + a.right) / 2, a.top + 5);

    ctx.font = "8px " + FONT;
    const tw = ctx.measureText(opts.ref).width;
    const bw = tw + 44, bh = 14;
    const bx = a.right - 4 - bw, by = a.top + 10;
    ctx.fillStyle = "rgba(255,255,255,0.85)";
    ctx.strokeStyle = "#dcdcdc";
    ctx.beginPath();
    ctx.roundRect(bx + 0.5, by + 0.5, bw, bh, 2);
    ctx.fill();
    ctx.stroke();
    const mx = bx + 16, my = by + bh / 2 + 0.5;
    ctx.strokeStyle = "#111";
    ctx.beginPath();
    ctx.moveTo(mx - 4, my); ctx.lineTo(mx + 4, my);
    ctx.moveTo(mx, my - 4); ctx.lineTo(mx, my + 4);
    ctx.stroke();
    ctx.fillStyle = "#555";
    ctx.textAlign = "left";
    ctx.textBaseline = "middle";
    ctx.fillText(opts.ref, bx + 30, my);
    ctx.restore();
  }
};

function pts(xs, ys) {
  return ys.map((v, i) => ({ x: xs[i], y: v }));
}

function makePanel(p) {
  const col = COLS[p.col], row = ROWS[p.row];
  const canvas = document.createElement("canvas");
  canvas.width = col.width;
  canvas.height = row[1] - row[0] + PAD_TOP + X_AXIS_H;
  canvas.style.left = col.left + "px";
  canvas.style.top = (row[0] - PAD_TOP) + "px";
  document.body.appendChild(canvas);

  const inBand = (c) => c.p0.parsed.x >= p.bandFrom;
  const thermoW = p.thermoWidth || THIN;
  const thermoBand = (c) => (p.thermoWave ? c.p0.parsed.x >= 1.1 : inBand(c));
  const tickGrid = { display: true, drawOnChartArea: false, drawTicks: true, tickLength: 3, color: "#666" };

  new Chart(canvas, {
    type: "scatter",
    data: {
      datasets: [
        {
          label: p.ref,
          data: p.obs.map((o) => ({ x: o[0], y: o[1] })),
          errors: p.obs,
          pointRadius: 1.6,
          pointBorderWidth: 0,
          pointBackgroundColor: "#000",
          order: 0
        },
        {
          label: "Disequilibrium",
          data: pts(WAVE, p.diseq),
          showLine: true,
          pointRadius: 0,
          tension: 0,
          clip: 0,
          borderJoinStyle: "round",
          borderColor: ORANGE,
          borderWidth: THIN,
          segment: {
            borderWidth: (c) => (inBand(c) ? p.band : THIN),
            borderColor: (c) => (inBand(c) ? ORANGE : ORANGE_THIN)
          },
          order: 1
        },
        {
          label: "Thermochemical",
          data: pts(p.thermoWave || WAVE, p.thermo),
          showLine: true,
          pointRadius: 0,
          tension: 0,
          clip: 0,
          borderJoinStyle: "round",
          borderColor: BLUE,
          borderWidth: thermoW,
          segment: {
            borderWidth: (c) => (thermoBand(c) ? p.band : thermoW),
            borderColor: (c) => (thermoBand(c) || p.thermoWave ? BLUE : BLUE_THIN)
          },
          order: 2
        }
      ]
    },
    options: {
      responsive: false,
      animation: false,
      events: [],
      layout: { padding: { top: PAD_TOP, right: col.padRight, left: 0, bottom: 0 } },
      plugins: {
        legend: { display: false },
        tooltip: { enabled: false },
        panelDecor: { title: p.name, ref: p.ref }
      },
      scales: {
        x: {
          type: "logarithmic",
          min: 0.3,
          max: 5,
          afterBuildTicks: (s) => { s.ticks = X_TICKS.map((v) => ({ value: v })); },
          afterFit: (s) => { s.height = X_AXIS_H; s.paddingLeft = 0; s.paddingRight = 0; },
          ticks: { callback: (v) => String(v), font: { size: 8 }, color: "#555", padding: 2, maxRotation: 0, autoSkip: false },
          grid: tickGrid,
          border: { display: false }
        },
        y: {
          type: "linear",
          min: p.yMin,
          max: p.yMax,
          afterBuildTicks: (s) => { s.ticks = p.yTicks.map((v) => ({ value: v })); },
          afterFit: (s) => { s.width = col.axis; s.paddingTop = 0; s.paddingBottom = 0; },
          ticks: { callback: (v) => Number(v).toFixed(p.digits), font: { size: 8 }, color: "#555", padding: 3 },
          grid: tickGrid,
          border: { display: false }
        }
      }
    },
    plugins: [errorBars, panelDecor]
  });
}

PANELS.forEach(makePanel);
</script>
</body>
</html>
